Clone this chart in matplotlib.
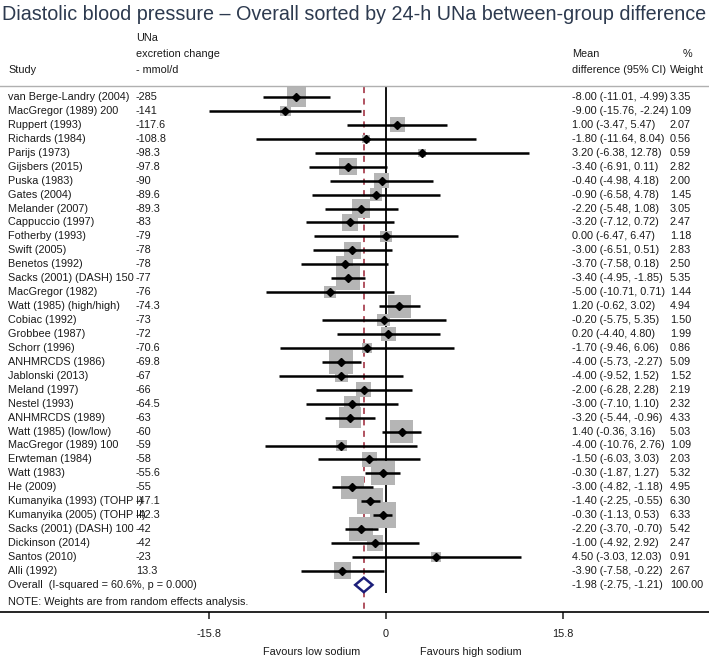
import numpy as np
import matplotlib
matplotlib.use("Agg")
import matplotlib.pyplot as plt

plt.rcParams['font.family'] = ['Liberation Sans', 'DejaVu Sans']

# -------------------------------
# Data
# -------------------------------
studies = ["van Berge-Landry (2004)", "MacGregor (1989) 200", "Ruppert (1993)", "Richards (1984)",
           "Parijs (1973)", "Gijsbers (2015)", "Puska (1983)", "Gates (2004)", "Melander (2007)",
           "Cappuccio (1997)", "Fotherby (1993)", "Swift (2005)", "Benetos (1992)",
           "Sacks (2001) (DASH) 150", "MacGregor (1982)", "Watt (1985) (high/high)", "Cobiac (1992)",
           "Grobbee (1987)", "Schorr (1996)", "ANHMRCDS (1986)", "Jablonski (2013)", "Meland (1997)",
           "Nestel (1993)", "ANHMRCDS (1989)", "Watt (1985) (low/low)", "MacGregor (1989) 100",
           "Erwteman (1984)", "Watt (1983)", "He (2009)", "Kumanyika (1993) (TOHP I)",
           "Kumanyika (2005) (TOHP II)", "Sacks (2001) (DASH) 100", "Dickinson (2014)",
           "Santos (2010)", "Alli (1992)"]
una_change = ["-285", "-141", "-117.6", "-108.8", "-98.3", "-97.8", "-90", "-89.6", "-89.3", "-83",
              "-79", "-78", "-78", "-77", "-76", "-74.3", "-73", "-72", "-70.6", "-69.8", "-67",
              "-66", "-64.5", "-63", "-60", "-59", "-58", "-55.6", "-55", "-47.1", "-42.3", "-42",
              "-42", "-23", "13.3"]
md = [-8.00, -9.00, 1.00, -1.80, 3.20, -3.40, -0.40, -0.90, -2.20, -3.20, 0.00, -3.00, -3.70,
      -3.40, -5.00, 1.20, -0.20, 0.20, -1.70, -4.00, -4.00, -2.00, -3.00, -3.20, 1.40, -4.00,
      -1.50, -0.30, -3.00, -1.40, -0.30, -2.20, -1.00, 4.50, -3.90]
ci_lo = [-11.01, -15.76, -3.47, -11.64, -6.38, -6.91, -4.98, -6.58, -5.48, -7.12, -6.47, -6.51,
         -7.58, -4.95, -10.71, -0.62, -5.75, -4.40, -9.46, -5.73, -9.52, -6.28, -7.10, -5.44,
         -0.36, -10.76, -6.03, -1.87, -4.82, -2.25, -1.13, -3.70, -4.92, -3.03, -7.58]
ci_hi = [-4.99, -2.24, 5.47, 8.04, 12.78, 0.11, 4.18, 4.78, 1.08, 0.72, 6.47, 0.51, 0.18, -1.85,
         0.71, 3.02, 5.35, 4.80, 6.06, -2.27, 1.52, 2.28, 1.10, -0.96, 3.16, 2.76, 3.03, 1.27,
         -1.18, -0.55, 0.53, -0.70, 2.92, 12.03, -0.22]
weight = [3.35, 1.09, 2.07, 0.56, 0.59, 2.82, 2.00, 1.45, 3.05, 2.47, 1.18, 2.83, 2.50, 5.35,
          1.44, 4.94, 1.50, 1.99, 0.86, 5.09, 1.52, 2.19, 2.32, 4.33, 5.03, 1.09, 2.03, 5.32,
          4.95, 6.30, 6.33, 5.42, 2.47, 0.91, 2.67]

overall_md, overall_lo, overall_hi = -1.98, -2.75, -1.21
overall_label = "Overall  (I-squared = 60.6%, p = 0.000)"
tick_vals = [-15.8, 0, 15.8]
tick_labels = ["-15.8", "0", "15.8"]

# -------------------------------
# Layout (pixel based, 709 x 660)
# -------------------------------
W, H = 709, 660
fig = plt.figure(figsize=(W / 100, H / 100), dpi=100)

top_px, bot_px = 86, 612          # header rule / x axis line
row0_px, row_px = 97, 13.94       # first study row, row spacing
zero_px, unit_px = 386, 11.2      # x of 0, px per mmHg

ax = fig.add_axes([0, 1 - bot_px / H, 1, (bot_px - top_px) / H])
ax.set_xlim(-zero_px / unit_px, (W - zero_px) / unit_px)
ax.set_ylim((bot_px - row0_px) / row_px, (top_px - row0_px) / row_px)

txt_col = '#1a1a1a'
fs = 7.8
rows = np.arange(len(studies))
n = len(studies)

# squares sized by weight, CI lines, point markers
ax.scatter(md, rows, marker='s', s=np.array(weight) * 56, color='#b5b5b5', lw=0, zorder=2)
ax.hlines(rows, ci_lo, ci_hi, color='black', lw=1.8, zorder=3)
ax.plot(md, rows, 'D', color='black', ms=3.6, zorder=4)

# overall diamond
ax.fill([overall_lo, overall_md, overall_hi, overall_md],
        [n, n - 0.52, n, n + 0.52], facecolor='white', edgecolor='#1c1f7a', lw=1.8, zorder=4)

# reference lines
ax.vlines(0, -0.75, n + 0.6, color='black', lw=1.3, zorder=1)
ax.vlines(overall_md, -0.75, ax.get_ylim()[0], color='#9b2335', lw=1.1,
          linestyles=(0, (4, 3.5)), zorder=1)

# axis styling
for s in ['left', 'right']:
    ax.spines[s].set_visible(False)
ax.spines['top'].set_color('#b0b0b0')
ax.spines['top'].set_linewidth(1.0)
ax.spines['bottom'].set_linewidth(1.2)
ax.set_yticks([])
ax.set_xticks(tick_vals, tick_labels)
ax.tick_params(axis='x', length=5, width=1.1, labelsize=fs, colors=txt_col, pad=7)

# text columns
tr = ax.get_yaxis_transform()
x_study, x_una, x_md, x_wt = 8 / W, 136 / W, 572 / W, 670 / W
for i in rows:
    ax.text(x_study, i, studies[i], transform=tr, fontsize=fs, va='center', color=txt_col)
    ax.text(x_una, i, una_change[i], transform=tr, fontsize=fs, va='center', color=txt_col)
    ax.text(x_md, i, f"{md[i]:.2f} ({ci_lo[i]:.2f}, {ci_hi[i]:.2f})", transform=tr,
            fontsize=fs, va='center', color=txt_col)
    ax.text(x_wt, i, f"{weight[i]:.2f}", transform=tr, fontsize=fs, va='center', color=txt_col)

ax.text(x_study, n, overall_label, transform=tr, fontsize=fs, va='center', color=txt_col)
ax.text(x_md, n, f"{overall_md:.2f} ({overall_lo:.2f}, {overall_hi:.2f})", transform=tr,
        fontsize=fs, va='center', color=txt_col)
ax.text(x_wt, n, "100.00", transform=tr, fontsize=fs, va='center', color=txt_col)
ax.text(x_study, n + 1.2, "NOTE: Weights are from random effects analysis.", transform=tr,
        fontsize=fs, va='center', color=txt_col)


# header and footer text, placed in figure pixels
def ftext(px, py, s, **kw):
    fig.text(px / W, 1 - py / H, s, fontsize=fs, va='center', color=txt_col, **kw)


ftext(136, 38, "UNa")
ftext(136, 54, "excretion change")
ftext(136, 70, "- mmol/d")
ftext(8, 70, "Study")
ftext(572, 54, "Mean")
ftext(572, 70, "difference (95% CI)")
ftext(687, 54, "%", ha='center')
ftext(670, 70, "Weight")

ftext(312, 652, "Favours low sodium", ha='center')
ftext(471, 652, "Favours high sodium", ha='center')

# title
fig.text(0.5, 1 - 14 / H,
         "Diastolic blood pressure \u2013 Overall sorted by 24-h UNa between-group difference",
         fontsize=14.2, ha='center', va='center', color='#2d3a4f')

fig.savefig("out.png", dpi=100)
